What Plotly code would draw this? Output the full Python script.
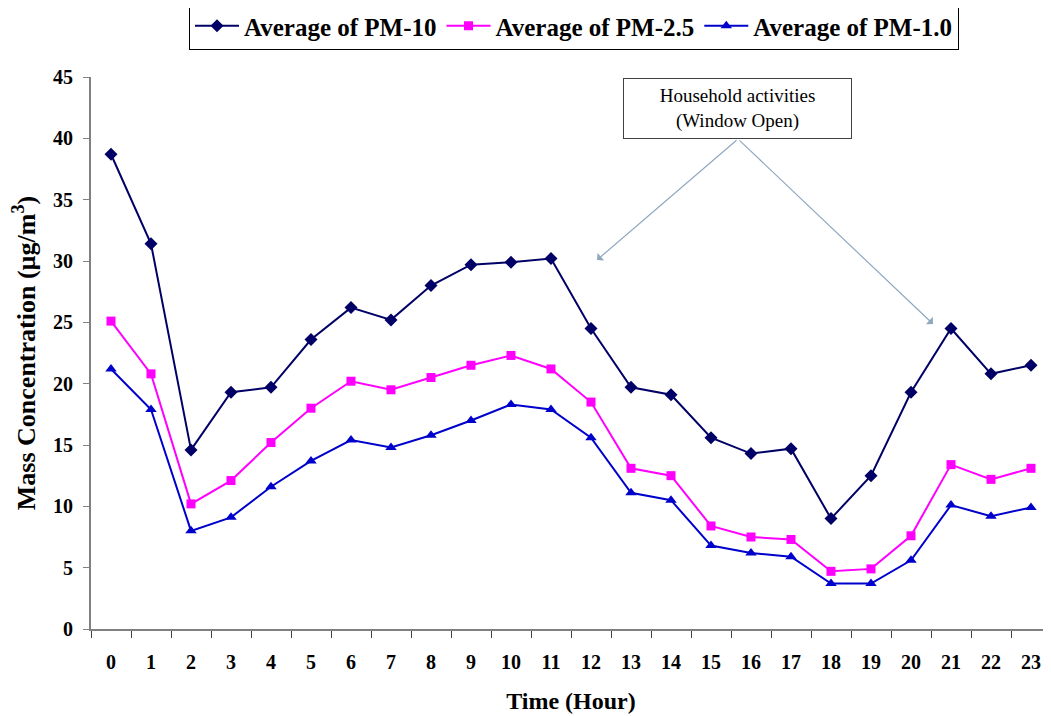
import plotly.graph_objects as go

hours = list(range(24))
hour_labels = [str(h) for h in hours]
pm10 = [38.7, 31.4, 14.6, 19.3, 19.7, 23.6, 26.2, 25.2, 28.0, 29.7, 29.9, 30.2,
        24.5, 19.7, 19.1, 15.6, 14.3, 14.7, 9.0, 12.5, 19.3, 24.5, 20.8, 21.5]
pm25 = [25.1, 20.8, 10.2, 12.1, 15.2, 18.0, 20.2, 19.5, 20.5, 21.5, 22.3, 21.2,
        18.5, 13.1, 12.5, 8.4, 7.5, 7.3, 4.7, 4.9, 7.6, 13.4, 12.2, 13.1]
pm1 = [21.2, 17.9, 8.0, 9.1, 11.6, 13.7, 15.4, 14.8, 15.8, 17.0, 18.3, 17.9,
       15.6, 11.1, 10.5, 6.8, 6.2, 5.9, 3.7, 3.7, 5.6, 10.1, 9.2, 9.9]
pm10_name = "Average of PM-10"
pm25_name = "Average of PM-2.5"
pm1_name = "Average of PM-1.0"
y_ticks = [0, 5, 10, 15, 20, 25, 30, 35, 40, 45]

FONT = "Liberation Serif, Times New Roman, serif"

fig = go.Figure()
fig.add_trace(go.Scatter(x=hours, y=pm10, name=pm10_name, mode="lines+markers",
                         line=dict(color="#000066", width=2),
                         marker=dict(symbol="diamond", size=10, color="#000066")))
fig.add_trace(go.Scatter(x=hours, y=pm25, name=pm25_name, mode="lines+markers",
                         line=dict(color="#FF00FF", width=2),
                         marker=dict(symbol="square", size=9, color="#FF00FF")))
fig.add_trace(go.Scatter(x=hours, y=pm1, name=pm1_name, mode="lines+markers",
                         line=dict(color="#0000CC", width=2),
                         marker=dict(symbol="triangle-up", size=10, color="#0000CC")))

# The page body adds an 8px offset; screen coordinates below are compensated.
OFF = 8
W, H = 1051, 716
L, R, T, B = 91 - OFF, 8, 77 - OFF, 87 + OFF
pw, ph = W - L - R, H - T - B

def px(xs):
    return (xs - OFF - L) / pw

def py(ys):
    return (H - B - (ys - OFF)) / ph

# Text box
fig.add_annotation(xref="paper", yref="paper", x=px(737.5), y=py(108.5),
                   xanchor="center", yanchor="middle",
                   text="Household activities<br>(Window Open)", showarrow=False,
                   font=dict(family=FONT, size=19, color="black"),
                   bordercolor="#404040", borderwidth=1, bgcolor="white",
                   width=225, height=57, align="center")
# Arrows
arrow_color = "#8fa8c0"
for hx, hy in [(597, 260), (933, 324)]:
    fig.add_annotation(xref="paper", yref="paper", x=px(hx), y=py(hy), text="",
                       showarrow=True, ax=738 - hx, ay=139 - hy,
                       arrowhead=1, arrowsize=1.4, arrowwidth=1.2,
                       arrowcolor=arrow_color)

fig.update_layout(
    width=W, height=H,
    margin=dict(l=L, r=R, t=T, b=B, autoexpand=False),
    paper_bgcolor="white", plot_bgcolor="white",
    font=dict(family=FONT, color="black"),
    showlegend=True,
    legend=dict(orientation="h", xref="paper", yref="paper",
                x=px(574), xanchor="center", y=py(2), yanchor="top",
                font=dict(family=FONT, size=25, color="black", weight="bold"),
                bordercolor="black", borderwidth=1, bgcolor="white",
                itemwidth=44, tracegroupgap=0),
    xaxis=dict(range=[-0.5, 23.5], tickmode="array", tickvals=hours,
               ticktext=hour_labels, ticks="", showgrid=False, zeroline=False,
               showline=True, linecolor="#808080", linewidth=2,
               automargin=False,
               tickfont=dict(family=FONT, size=20, weight="bold"),
               ticklabelstandoff=14,
               minor=dict(tickmode="array", tickvals=[h - 0.5 for h in range(25)],
                          ticks="outside", ticklen=7, tickcolor="#404040",
                          tickwidth=1, showgrid=False),
               title=dict(text="Time (Hour)", standoff=20,
                          font=dict(family=FONT, size=24, weight="bold"))),
    yaxis=dict(range=[0, 45], tickmode="array", tickvals=y_ticks,
               ticks="outside", ticklen=6, tickcolor="#808080",
               showgrid=False, zeroline=False, automargin=False,
               showline=True, linecolor="#808080", linewidth=2,
               tickfont=dict(family=FONT, size=20, weight="bold"),
               ticklabelstandoff=6,
               title=dict(text="Mass Concentration (µg/m<sup>3</sup>)", standoff=12,
                          font=dict(family=FONT, size=26, weight="bold"))),
)

fig.write_html("out.html")
